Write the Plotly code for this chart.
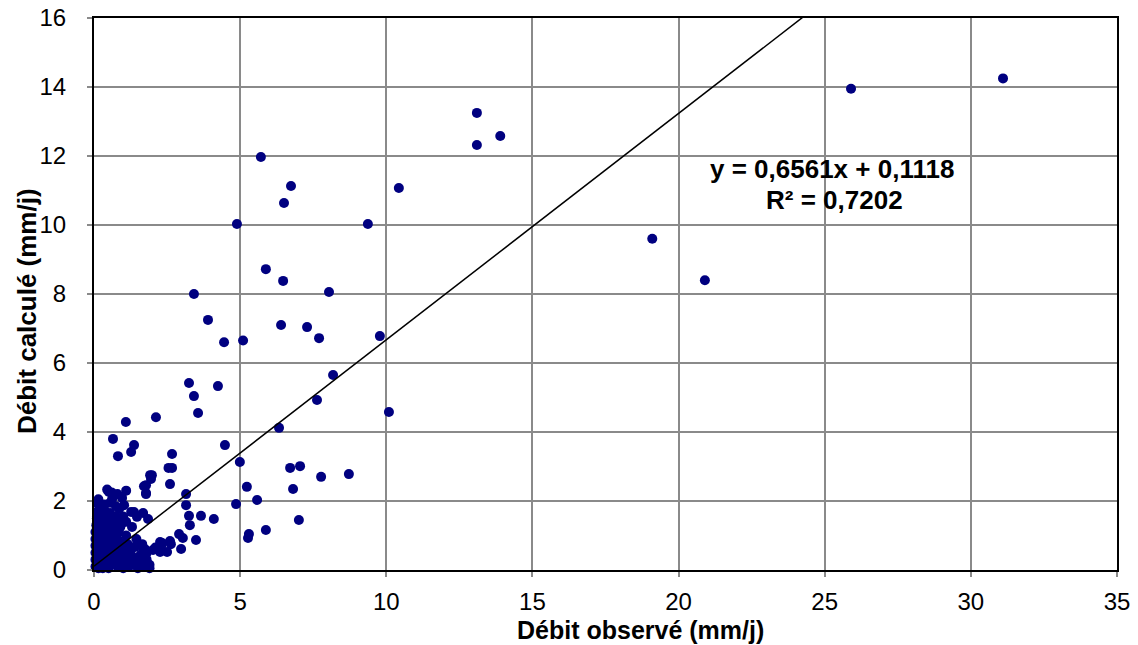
import plotly.graph_objects as go

# Observed (x) and computed (y) discharge, mm/j
obs_outliers = [31.1, 25.9, 19.1, 20.9, 13.1, 13.1, 13.9,
                10.43, 5.71, 6.74, 6.50, 4.89, 9.37, 5.88, 6.47, 8.04, 3.42, 3.90,
                6.40, 7.29, 7.70, 9.78, 5.10, 4.45,
                3.25, 4.24, 3.42, 3.56, 8.18, 7.63, 10.09, 2.12, 6.33, 4.48, 2.67,
                2.55, 2.67, 4.99, 6.71, 7.05, 7.77, 8.72, 1.98, 6.81, 7.01,
                2.60, 3.15, 3.15, 3.25, 3.28, 3.66, 4.10, 4.86, 5.23, 5.58, 5.30, 5.27,
                5.88, 2.91, 3.04, 3.49, 2.98, 2.60, 2.63, 2.33, 2.50, 2.26]
calc_outliers = [14.25, 13.95, 9.6, 8.4, 13.25, 12.32, 12.58,
                 11.07, 11.97, 11.13, 10.64, 10.03, 10.03, 8.72, 8.38, 8.06, 8.0, 7.25,
                 7.10, 7.04, 6.72, 6.78, 6.65, 6.60,
                 5.42, 5.33, 5.04, 4.55, 5.65, 4.93, 4.58, 4.43, 4.12, 3.62, 3.36,
                 2.96, 2.96, 3.13, 2.96, 3.01, 2.70, 2.78, 2.75, 2.35, 1.45,
                 2.49, 2.20, 1.88, 1.57, 1.30, 1.57, 1.48, 1.91, 2.41, 2.03, 1.04, 0.93,
                 1.16, 1.04, 0.93, 0.87, 0.61, 0.84, 0.75, 0.78, 0.52, 0.52]

obs_cluster = [1.09, 0.65, 1.37, 1.27, 0.82, 1.92, 1.95, 1.71, 1.78,
               0.45, 0.60, 0.80, 1.10, 0.62, 0.96, 0.20, 0.30, 0.86, 1.27, 1.68, 1.85,
               1.47, 0.86, 2.26, 2.02, 1.80, 1.57, 1.40, 1.23, 1.78, 1.78, 0.51, 1.03,
               1.37, 0.10, 0.05, 0.05, 0.05, 0.05, 0.05, 0.05, 0.08, 0.10, 0.12,
               0.20, 0.20, 0.20, 0.20, 0.20, 0.20, 0.25, 0.30, 0.35,
               0.40, 0.40, 0.40, 0.40, 0.40, 0.40, 0.45, 0.50, 0.55,
               0.60, 0.60, 0.60, 0.60, 0.60, 0.60, 0.65, 0.75,
               0.80, 0.80, 0.80, 0.80, 0.80, 0.85, 0.90,
               1.00, 1.00, 1.00, 1.05, 1.10, 1.20, 1.20, 1.25, 1.30,
               1.40, 1.40, 1.55, 1.60, 1.70, 1.80, 1.90, 0.15, 0.50, 1.00, 1.50, 1.90,
               2.10, 2.30, 1.65, 1.15, 0.70, 0.30, 0.95,
               0.30, 0.50, 0.70, 0.90, 1.10, 0.30, 0.50, 0.70, 0.90, 1.15, 1.20,
               0.10, 0.15, 0.35, 0.55, 0.75, 1.00, 1.30, 1.45, 1.65, 1.75]
calc_cluster = [4.29, 3.80, 3.62, 3.42, 3.30, 2.75, 2.64, 2.43, 2.20,
                2.33, 2.25, 2.20, 2.30, 2.06, 2.09, 1.83, 1.75, 1.77, 1.68, 1.65, 1.48,
                1.54, 1.45, 0.81, 0.58, 0.49, 0.38, 0.67, 0.52, 2.46, 2.23, 2.26, 1.88,
                1.68, 1.54, 0.10, 0.30, 0.50, 0.70, 0.90, 1.10, 1.30, 1.50, 1.70,
                0.20, 0.40, 0.60, 0.80, 1.00, 1.20, 1.40, 1.60, 1.75,
                0.10, 0.30, 0.50, 0.70, 0.90, 1.10, 1.30, 1.50, 1.65,
                0.20, 0.40, 0.60, 0.80, 1.00, 1.20, 1.40, 1.55,
                0.10, 0.30, 0.50, 0.70, 0.90, 1.10, 1.25,
                0.20, 0.40, 0.60, 0.80, 1.00, 0.10, 0.30, 0.50, 0.65,
                0.15, 0.35, 0.20, 0.45, 0.10, 0.30, 0.15, 0.05, 0.05, 0.05, 0.05, 0.05,
                0.65, 0.70, 0.75, 0.45, 0.35, 0.05, 1.35,
                1.05, 1.25, 1.15, 1.35, 1.40, 0.85, 0.95, 1.00, 1.45, 0.75, 0.20,
                1.95, 2.05, 1.90, 1.95, 1.85, 1.55, 1.25, 0.90, 0.70, 0.60]

slope = 0.6561
intercept = 0.1118
trend_x = [0, 31.1]
trend_y = [slope * v + intercept for v in trend_x]

x_ticks = [0, 5, 10, 15, 20, 25, 30, 35]
y_ticks = [0, 2, 4, 6, 8, 10, 12, 14, 16]

fig = go.Figure()
fig.add_trace(go.Scatter(
    x=obs_outliers + obs_cluster, y=calc_outliers + calc_cluster,
    mode="markers", cliponaxis=False,
    marker=dict(color="#000080", size=10, line=dict(width=0)),
    showlegend=False))
fig.add_trace(go.Scatter(
    x=trend_x, y=trend_y, mode="lines",
    line=dict(color="black", width=1.5), showlegend=False))

font = "Liberation Sans, Arial, sans-serif"
axis_common = dict(
    showgrid=True, gridcolor="#8a8a8a", gridwidth=1.5,
    showline=True, linecolor="black", linewidth=2, mirror=True,
    ticks="outside", ticklen=5, tickcolor="#8a8a8a", tickwidth=1.5,
    tickfont=dict(family=font, size=24, color="black"),
    zeroline=False, automargin=False,
)
fig.update_xaxes(range=[0, 35], tickvals=x_ticks, ticklabelstandoff=4, **axis_common)
fig.update_yaxes(range=[0, 16], tickvals=y_ticks, ticklabelstandoff=16, **axis_common)

fig.update_layout(
    width=1138, height=645,
    margin=dict(l=94, r=21, t=18, b=75),
    plot_bgcolor="white", paper_bgcolor="white",
    font=dict(family=font, color="black"),
    annotations=[
        dict(text="<b>Débit observé (mm/j)</b>", xref="paper", yref="paper",
             x=0.534, y=-0.1087, xanchor="center", yanchor="middle", showarrow=False,
             font=dict(size=25)),
        dict(text="<b>Débit calculé (mm/j)</b>", xref="paper", yref="paper",
             x=-0.066, y=0.47, xanchor="center", yanchor="middle", showarrow=False,
             textangle=-90, font=dict(size=26)),
        dict(text="<b>y = 0,6561x + 0,1118</b>", xref="paper", yref="paper",
             x=0.721, y=0.726, xanchor="center", yanchor="middle", showarrow=False,
             font=dict(size=26)),
        dict(text="<b>R² = 0,7202</b>", xref="paper", yref="paper",
             x=0.724, y=0.671, xanchor="center", yanchor="middle", showarrow=False,
             font=dict(size=26)),
    ],
)

fig.write_html("out.html")
